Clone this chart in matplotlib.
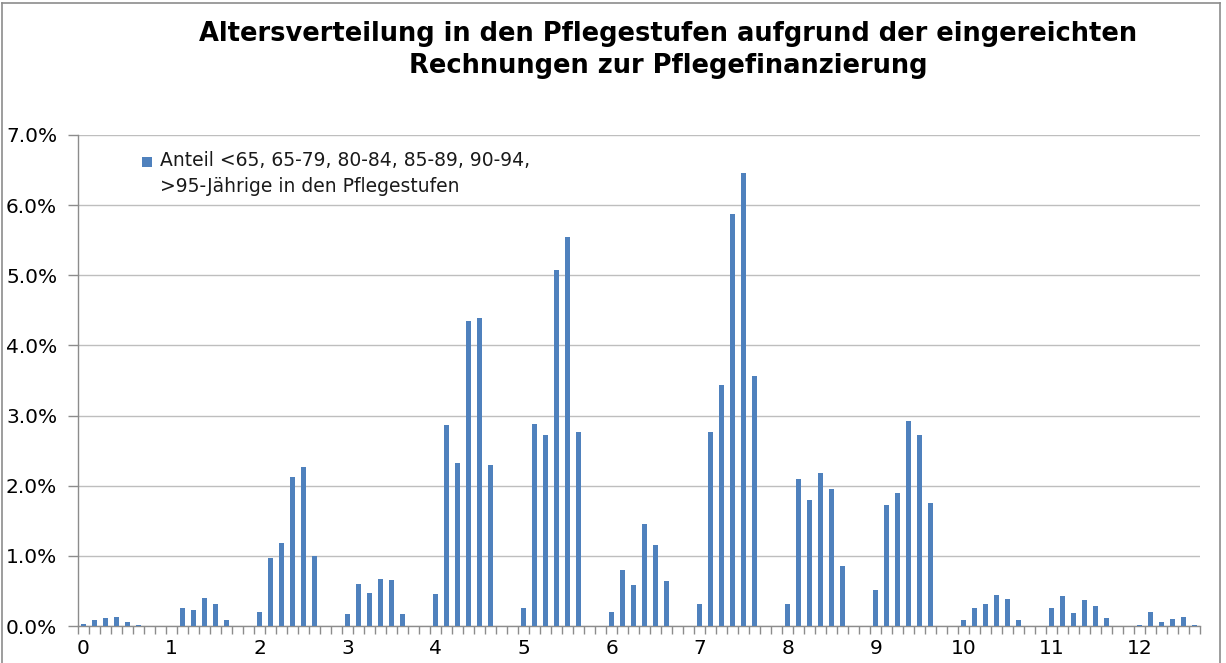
import matplotlib
matplotlib.use("Agg")
import matplotlib.pyplot as plt
import matplotlib.patches as mpatches
from matplotlib.container import BarContainer
from matplotlib.legend_handler import HandlerPatch
from matplotlib.ticker import FixedLocator, FuncFormatter
import numpy as np

title = "Altersverteilung in den Pflegestufen aufgrund der eingereichten\nRechnungen zur Pflegefinanzierung"
series_label = "Anteil <65, 65-79, 80-84, 85-89, 90-94,\n>95-Jährige in den Pflegestufen"

# 13 groups, each 8 category slots (6 age groups + 2 empty), values in %
group_labels = [str(i) for i in range(13)]
g0 = [0.03, 0.09, 0.11, 0.13, 0.06, 0.02, 0, 0]
g1 = [0, 0.26, 0.23, 0.40, 0.31, 0.09, 0, 0]
g2 = [0.20, 0.97, 1.19, 2.13, 2.26, 1.00, 0, 0]
g3 = [0.17, 0.60, 0.47, 0.67, 0.65, 0.17, 0, 0]
g4 = [0.46, 2.87, 2.33, 4.35, 4.39, 2.29, 0, 0]
g5 = [0.25, 2.88, 2.72, 5.07, 5.54, 2.76, 0, 0]
g6 = [0.20, 0.80, 0.59, 1.46, 1.15, 0.64, 0, 0]
g7 = [0.32, 2.77, 3.44, 5.87, 6.46, 3.57, 0, 0]
g8 = [0.32, 2.09, 1.80, 2.18, 1.95, 0.85, 0, 0]
g9 = [0.51, 1.73, 1.90, 2.92, 2.72, 1.76, 0, 0]
g10 = [0.09, 0.25, 0.31, 0.44, 0.39, 0.08, 0, 0]
g11 = [0.25, 0.43, 0.19, 0.37, 0.28, 0.11, 0, 0]
g12 = [0.01, 0.20, 0.06, 0.10, 0.13, 0.02]

values = g0 + g1 + g2 + g3 + g4 + g5 + g6 + g7 + g8 + g9 + g10 + g11 + g12
values = np.array(values) / 100.0
x = np.arange(len(values))

fig = plt.figure(figsize=(12.26, 6.63), dpi=100)
ax = fig.add_axes([0.0636, 0.0558, 0.9154, 0.7406])

bar_color = "#4F81BD"
bars = ax.bar(x, values, width=0.42, color=bar_color, label=series_label, zorder=3)

ax.set_xlim(-0.5, len(values) - 0.5)
ax.set_ylim(0, 0.07)
ax.set_yticks(np.arange(0, 0.0701, 0.01))
ax.yaxis.set_major_formatter(FuncFormatter(lambda v, p: f"{v*100:.1f}%"))
ax.grid(axis="y", color="#BEBEBE", linewidth=1.0, zorder=0)

ax.set_xticks(np.arange(0, len(values), 8))
ax.set_xticklabels(group_labels)
ax.xaxis.set_minor_locator(FixedLocator(np.arange(-0.5, len(values) + 0.5, 1)))
ax.tick_params(axis="x", which="major", length=0, pad=9, labelsize=14.5)
ax.tick_params(axis="x", which="minor", length=6, color="#8C8C8C", width=1)
ax.tick_params(axis="y", which="major", length=7, color="#8C8C8C", width=1, labelsize=14.5, pad=8)

for s in ["top", "right"]:
    ax.spines[s].set_visible(False)
for s in ["left", "bottom"]:
    ax.spines[s].set_color("#8C8C8C")
    ax.spines[s].set_linewidth(1.0)

fig.text(0.545, 0.925, title, ha="center", va="center", fontsize=18.5,
         fontweight="bold", family="DejaVu Sans", linespacing=1.3)


def top_square(legend, orig_handle, xdescent, ydescent, width, height, fontsize):
    s = 0.55 * fontsize
    return mpatches.Rectangle((-xdescent, -ydescent + 0.7 * fontsize), s, s)


def first_child(tgt, src):
    tgt.update_from(src[0])


leg = ax.legend(loc="upper left", bbox_to_anchor=(0.057, 0.968), frameon=False,
                fontsize=13.5, handlelength=0.55, handleheight=0.55, handletextpad=0.4,
                borderaxespad=0, borderpad=0,
                handler_map={BarContainer: HandlerPatch(patch_func=top_square,
                                                        update_func=first_child)})
for t in leg.get_texts():
    t.set_linespacing(1.5)
    t.set_color("#1A1A1A")

for t in ax.get_xticklabels() + ax.get_yticklabels():
    t.set_family("DejaVu Sans")

# chart-area border (top, left, right)
border_kw = dict(color="#8C8C8C", linewidth=1.2, transform=fig.transFigure)
fig.add_artist(plt.Line2D([0.002, 0.995], [0.996, 0.996], **border_kw))
fig.add_artist(plt.Line2D([0.002, 0.002], [0.0, 0.996], **border_kw))
fig.add_artist(plt.Line2D([0.995, 0.995], [0.0, 0.996], **border_kw))

fig.savefig("out.png", dpi=100)
